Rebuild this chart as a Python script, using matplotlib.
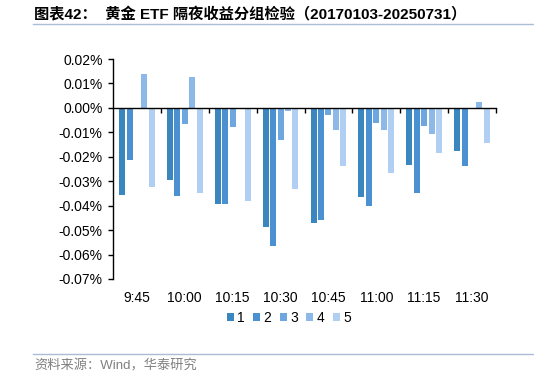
import matplotlib
matplotlib.use('Agg')
import numpy as np
import matplotlib.pyplot as plt
from matplotlib.lines import Line2D

plt.rcParams['font.family'] = ['Liberation Sans', 'Noto Sans CJK SC']
plt.rcParams['axes.unicode_minus'] = False

# data (values in %)
times = ['9:45', '10:00', '10:15', '10:30', '10:45', '11:00', '11:15', '11:30']
groups = ['1', '2', '3', '4', '5']
g1 = [-0.0355, -0.0297, -0.0393, -0.0488, -0.0470, -0.0366, -0.0233, -0.0175]
g2 = [-0.0213, -0.0361, -0.0393, -0.0567, -0.0460, -0.0402, -0.0349, -0.0237]
g3 = [0.0000, -0.0065, -0.0078, -0.0131, -0.0030, -0.0063, -0.0074, 0.0000]
g4 = [0.0140, 0.0128, 0.0000, -0.0014, -0.0092, -0.0089, -0.0105, 0.0023]
g5 = [-0.0322, -0.0349, -0.0380, -0.0332, -0.0239, -0.0266, -0.0183, -0.0143]
series = [g1, g2, g3, g4, g5]
colors = ['#3A86BE', '#4B91D1', '#6EA7DF', '#8DB9E9', '#B0CFF3']

yticks = [0.02, 0.01, 0.0, -0.01, -0.02, -0.03, -0.04, -0.05, -0.06, -0.07]

fig = plt.figure(figsize=(5.34, 3.78), dpi=100)
ax = fig.add_axes([113/534, 1-279/378, 383/534, 220/378])

x = np.arange(len(times))
step = 0.155
handles = []
for i, (vals, c) in enumerate(zip(series, colors)):
    b = ax.bar(x + (i - 2) * step, vals, width=0.125, color=c, label=groups[i], zorder=2)
    handles.append(b)

ax.set_xlim(-0.5, len(times) - 0.5)
ax.set_ylim(-0.07, 0.02)
ax.set_yticks(yticks)
ax.set_yticklabels([f'{v:.2f}%' for v in yticks], fontsize=10)
ax.tick_params(axis='y', direction='out', length=3.5, width=1, pad=4)

for s in ['top', 'right']:
    ax.spines[s].set_visible(False)
ax.spines['left'].set_linewidth(1)
ax.spines['bottom'].set_position(('data', 0))
ax.spines['bottom'].set_linewidth(1)
ax.spines['bottom'].set_zorder(3)
ax.set_xticks(np.arange(len(times)) + 0.5)
ax.tick_params(axis='x', direction='out', length=3.5, width=1, labelbottom=False)

sec = ax.secondary_xaxis('bottom')
sec.set_xticks(x)
sec.set_xticklabels(times, fontsize=10)
sec.tick_params(length=0, pad=9)
sec.spines['bottom'].set_visible(False)

fig.legend(handles=handles, labels=groups, loc='center', bbox_to_anchor=(289/534, 1-318/378),
           ncol=5, frameon=False, fontsize=10, handlelength=0.5, handleheight=0.5,
           handletextpad=0.25, columnspacing=0.6)

# title, source and separator lines
fig.text(34/534, 1-15/378, '图表42：  黄金 ETF 隔夜收益分组检验（20170103-20250731）',
         fontsize=11, fontweight='bold', va='center', ha='left')
fig.add_artist(Line2D([33/534, 1], [1-24/378, 1-24/378], transform=fig.transFigure,
                      color='#A9BED6', lw=1))
fig.add_artist(Line2D([33/534, 1], [1-354/378, 1-354/378], transform=fig.transFigure,
                      color='#A9BED6', lw=1))
fig.text(34/534, 1-366/378, '资料来源：Wind，华泰研究', fontsize=9.5, color='#808080',
         va='center', ha='left')

fig.savefig('out.png', dpi=100)
